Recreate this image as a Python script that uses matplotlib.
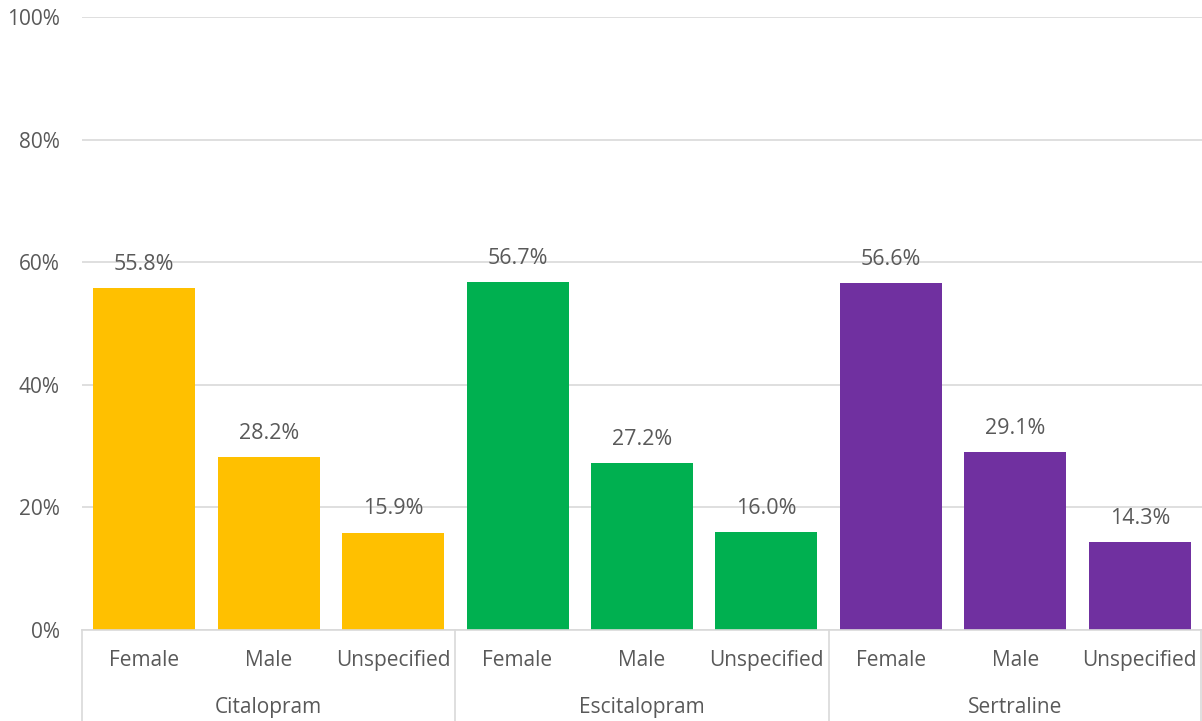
import matplotlib.pyplot as plt
from matplotlib.ticker import PercentFormatter
import matplotlib.transforms as mtransforms

plt.rcParams["font.family"] = ["Open Sans", "DejaVu Sans"]

drugs = ["Citalopram", "Escitalopram", "Sertraline"]
sexes = ["Female", "Male", "Unspecified"]
citalopram = [55.8, 28.2, 15.9]
escitalopram = [56.7, 27.2, 16.0]
sertraline = [56.6, 29.1, 14.3]
colors = ["#FFC000", "#00B050", "#7030A0"]

text_color = "#595959"
line_color = "#D9D9D9"

fig = plt.figure(figsize=(12.02, 7.21), dpi=100)
ax = fig.add_axes([0.0682, 0.1262, 0.9318, 0.8502])

x = 0
for drug, values, color in zip(drugs, [citalopram, escitalopram, sertraline], colors):
    pos = list(range(x, x + len(values)))
    bars = ax.bar(pos, values, width=0.82, color=color)
    for b, v in zip(bars, values):
        ax.annotate(f"{v:.1f}%", (b.get_x() + b.get_width() / 2, v),
                    xytext=(0, 17), textcoords="offset points",
                    ha="center", va="center", fontsize=15.5, color=text_color)
    x += len(values)

ax.set_xlim(-0.5, 8.5)
ax.set_ylim(0, 100)
ax.set_yticks(range(0, 101, 20))
ax.yaxis.set_major_formatter(PercentFormatter(decimals=0))
ax.tick_params(axis="y", length=0, pad=16, labelsize=15, labelcolor=text_color)
ax.set_xticks([])
ax.grid(axis="y", color=line_color, linewidth=1.2)
ax.set_axisbelow(True)
for side in ["top", "right", "left"]:
    ax.spines[side].set_visible(False)
ax.spines["bottom"].set_color(line_color)
ax.spines["bottom"].set_linewidth(1.2)

# two-level category axis below the bars
trans = mtransforms.blended_transform_factory(ax.transData, ax.transAxes)
labels = [s for _ in drugs for s in sexes]
for i, lab in enumerate(labels):
    ax.text(i, -0.049, lab, transform=trans, ha="center", va="center",
            fontsize=15, color=text_color)
for g, drug in enumerate(drugs):
    ax.text(g * 3 + 1, -0.1256, drug, transform=trans, ha="center", va="center",
            fontsize=15, color=text_color)
for sep in [-0.5, 2.5, 5.5, 8.49]:
    ax.plot([sep, sep], [0, -0.2], transform=trans, color=line_color,
            linewidth=1.2, clip_on=False)

fig.savefig("out.png", dpi=100)
